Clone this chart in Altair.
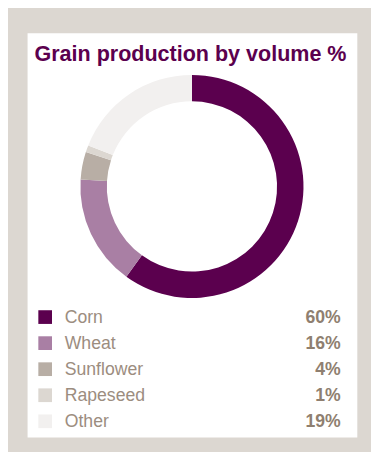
import altair as alt
import pandas as pd

categories = ["Corn", "Wheat", "Sunflower", "Rapeseed", "Other"]
shares = [60, 16, 4, 1, 19]
labels = ["60%", "16%", "4%", "1%", "19%"]
colors = ["#5b004e", "#a97fa4", "#b8aea5", "#dcd7d1", "#f2f0ef"]
title_text = "Grain production by volume %"

df = pd.DataFrame({
    "category": categories,
    "share": shares,
    "label": labels,
    "order": list(range(len(categories))),
})

color_scale = alt.Scale(domain=categories, range=colors)
y_scale = alt.Scale(type="point", domain=categories, range=[290, 396.5], padding=0)

donut = alt.Chart(df).mark_arc(outerRadius=114, innerRadius=87).encode(
    theta=alt.Theta("share:Q", stack=True),
    order=alt.Order("order:Q"),
    color=alt.Color("category:N", scale=color_scale, legend=None),
    x=alt.value(168),
    y=alt.value(156.5),
)

squares = alt.Chart(df).mark_square(size=196, opacity=1, filled=True).encode(
    x=alt.value(18),
    y=alt.Y("category:N", scale=y_scale, axis=None),
    color=alt.Color("category:N", scale=color_scale, legend=None),
)

names = alt.Chart(df).mark_text(
    align="left", baseline="middle", font="Liberation Sans", fontSize=18,
    color="#9c8d7f", dy=1,
).encode(
    x=alt.value(38),
    y=alt.Y("category:N", scale=y_scale, axis=None),
    text="category:N",
)

pcts = alt.Chart(df).mark_text(
    align="right", baseline="middle", font="Liberation Sans", fontSize=18,
    fontWeight="bold", color="#8f7f70", dy=1,
).encode(
    x=alt.value(320),
    y=alt.Y("category:N", scale=y_scale, axis=None),
    text="label:N",
)

title = alt.Chart(pd.DataFrame({"t": [title_text]})).mark_text(
    align="center", baseline="alphabetic", font="Liberation Sans", fontSize=22,
    fontWeight="bold", color="#5b004e",
).encode(
    x=alt.value(166.5),
    y=alt.value(28),
    text="t:N",
)

chart = alt.layer(donut, squares, names, pcts, title).properties(
    width=337,
    height=413,
    padding={"left": 20, "top": 21, "right": 14, "bottom": 10},
    background="#dcd7d1",
).configure_view(
    fill="white",
    stroke=None,
)

chart.save("out.html", embed_options={"renderer": "svg", "actions": False})
